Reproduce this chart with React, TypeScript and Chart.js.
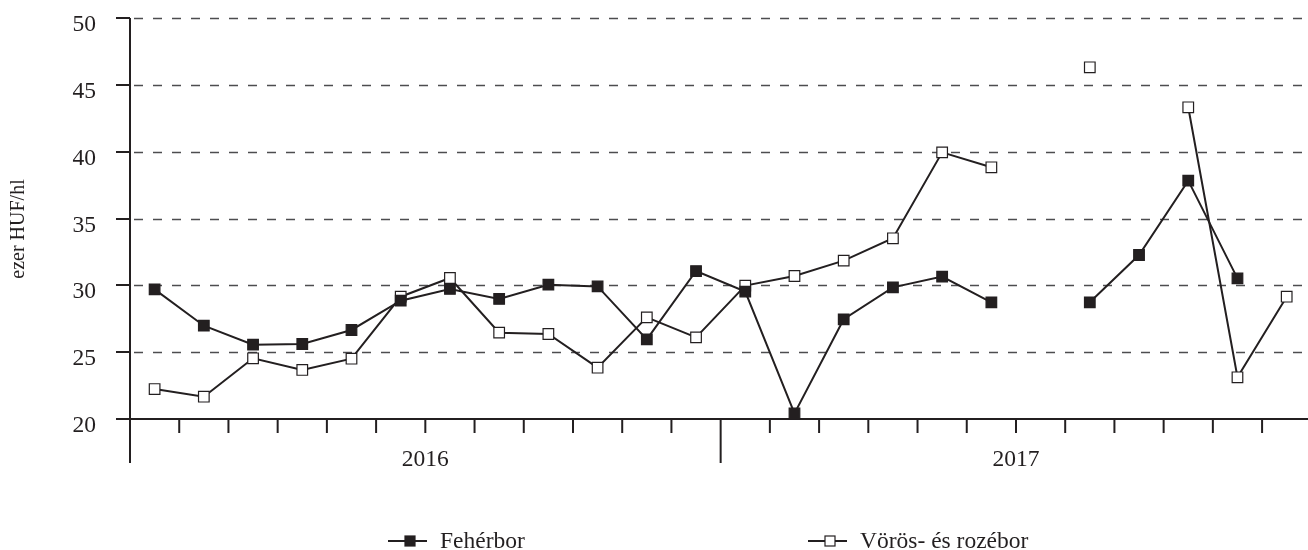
import React, { useEffect, useRef } from "react";
import { Chart, registerables } from "chart.js";

Chart.register(...registerables);

// ---- data ----
const months = [
  "2016. jan.", "2016. febr.", "2016. márc.", "2016. ápr.", "2016. máj.", "2016. jún.",
  "2016. júl.", "2016. aug.", "2016. szept.", "2016. okt.", "2016. nov.", "2016. dec.",
  "2017. jan.", "2017. febr.", "2017. márc.", "2017. ápr.", "2017. máj.", "2017. jún.",
  "2017. júl.", "2017. aug.", "2017. szept.", "2017. okt.", "2017. nov.", "2017. dec.",
];
const years = ["2016", "2017"];
const feherbor: (number | null)[] = [
  29.7, 26.98, 25.56, 25.61, 26.66, 28.85, 29.73, 28.98, 30.05, 29.92, 25.96, 31.07,
  29.53, 20.42, 27.46, 29.85, 30.65, 28.73, null, 28.73, 32.27, 37.83, 30.52, null,
];
const voros: (number | null)[] = [
  22.24, 21.67, 24.54, 23.67, 24.51, 29.15, 30.55, 26.46, 26.36, 23.84, 27.6, 26.11,
  29.98, 30.7, 31.85, 33.52, 39.95, 38.83, null, 46.31, null, 43.32, 23.12, 29.15,
];
const yTicks = [20, 25, 30, 35, 40, 45, 50];
const seriesNames = ["Fehérbor", "Vörös- és rozébor"];
const yTitle = "ezer HUF/hl";

const INK = "#231f20";
const GRID = "#4d4d4f";
const FONT = "'Liberation Serif', 'Times New Roman', serif";

const decor = {
  id: "decor",
  beforeDatasetsDraw(chart: any) {
    const { ctx, chartArea: a, scales } = chart;
    const x = scales.x;
    const y = scales.y;
    const n = chart.data.labels.length;
    const x0 = x.getPixelForValue(0);
    const step = x.getPixelForValue(1) - x0;
    ctx.save();

    // dashed horizontal grid
    ctx.strokeStyle = GRID;
    ctx.lineWidth = 1.5;
    ctx.setLineDash([9, 10]);
    yTicks.forEach((v) => {
      if (v === yTicks[0]) return;
      const py = Math.round(y.getPixelForValue(v)) + 0.5;
      ctx.beginPath();
      ctx.moveTo(a.left + 4, py);
      ctx.lineTo(a.right, py);
      ctx.stroke();
    });
    ctx.setLineDash([]);

    // y ticks and labels
    ctx.strokeStyle = INK;
    ctx.lineWidth = 2;
    ctx.fillStyle = INK;
    ctx.font = `23.5px ${FONT}`;
    ctx.textAlign = "right";
    ctx.textBaseline = "alphabetic";
    yTicks.forEach((v) => {
      const py = Math.round(y.getPixelForValue(v));
      ctx.beginPath();
      ctx.moveTo(a.left - 14, py);
      ctx.lineTo(a.left, py);
      ctx.stroke();
      ctx.fillText(String(v), a.left - 34, py + 12.5);
    });

    // x axis boundaries
    for (let i = 0; i <= n; i++) {
      const bx = x0 + (i - 0.5) * step;
      const isYear = i % 12 === 0;
      ctx.beginPath();
      ctx.moveTo(bx, a.bottom);
      ctx.lineTo(bx, a.bottom + (isYear ? 44 : 14));
      ctx.stroke();
    }
    // axes
    ctx.beginPath();
    ctx.moveTo(a.left, a.top);
    ctx.lineTo(a.left, a.bottom + 44);
    ctx.stroke();
    ctx.beginPath();
    ctx.moveTo(a.left, a.bottom);
    ctx.lineTo(a.right, a.bottom);
    ctx.stroke();

    // year labels
    ctx.textAlign = "center";
    years.forEach((yr, k) => {
      const cx = (x.getPixelForValue(k * 12) + x.getPixelForValue(k * 12 + 11)) / 2;
      ctx.fillText(yr, cx, a.bottom + 47);
    });

    // y title
    ctx.save();
    ctx.translate(19, 229);
    ctx.rotate(-Math.PI / 2);
    ctx.font = `20px ${FONT}`;
    ctx.textAlign = "center";
    ctx.textBaseline = "middle";
    ctx.fillText(yTitle, 0, 0);
    ctx.restore();

    // legend
    const items = [
      { name: seriesNames[0], lx: 388, fill: INK },
      { name: seriesNames[1], lx: 808, fill: "#ffffff" },
    ];
    ctx.font = `23.5px ${FONT}`;
    ctx.textAlign = "left";
    ctx.textBaseline = "alphabetic";
    items.forEach((it) => {
      const ly = 541;
      ctx.strokeStyle = INK;
      ctx.lineWidth = 2;
      ctx.beginPath();
      ctx.moveTo(it.lx, ly);
      ctx.lineTo(it.lx + 39, ly);
      ctx.stroke();
      ctx.fillStyle = it.fill;
      ctx.fillRect(it.lx + 17, ly - 5, 10, 10);
      ctx.lineWidth = 1.2;
      ctx.strokeRect(it.lx + 17, ly - 5, 10, 10);
      ctx.fillStyle = INK;
      ctx.fillText(it.name, it.lx + 52, ly + 7);
    });

    ctx.restore();
  },
};

export default function App() {
  const ref = useRef<HTMLCanvasElement | null>(null);
  useEffect(() => {
    if (!ref.current) return;
    const chart = new Chart(ref.current, {
      type: "line",
      data: {
        labels: months,
        datasets: [
          {
            label: seriesNames[0],
            data: feherbor,
            borderColor: INK,
            backgroundColor: INK,
            borderWidth: 2,
            pointStyle: "rect",
            pointRadius: 7.5,
            pointBorderWidth: 1.2,
            pointBackgroundColor: INK,
            pointBorderColor: INK,
            tension: 0,
            spanGaps: false,
            clip: false,
          },
          {
            label: seriesNames[1],
            data: voros,
            borderColor: INK,
            backgroundColor: "#ffffff",
            borderWidth: 2,
            pointStyle: "rect",
            pointRadius: 7.5,
            pointBorderWidth: 1.2,
            pointBackgroundColor: "#ffffff",
            pointBorderColor: INK,
            tension: 0,
            spanGaps: false,
            clip: false,
          },
        ],
      },
      options: {
        animation: false,
        responsive: false,
        devicePixelRatio: 1,
        layout: { padding: { left: 130, top: 18, right: 8, bottom: 131 } },
        plugins: { legend: { display: false }, tooltip: { enabled: false } },
        events: [],
        scales: {
          x: { type: "category", display: false, offset: true },
          y: { type: "linear", display: false, min: 20, max: 50 },
        },
      },
      plugins: [decor],
    });
    return () => chart.destroy();
  }, []);
  return (
    <div style={{ position: "fixed", left: 0, top: 0, width: 1308, height: 550, overflow: "hidden", background: "#fff" }}>
      <canvas ref={ref} width={1320} height={550} style={{ width: 1320, height: 550, display: "block" }} />
    </div>
  );
}
